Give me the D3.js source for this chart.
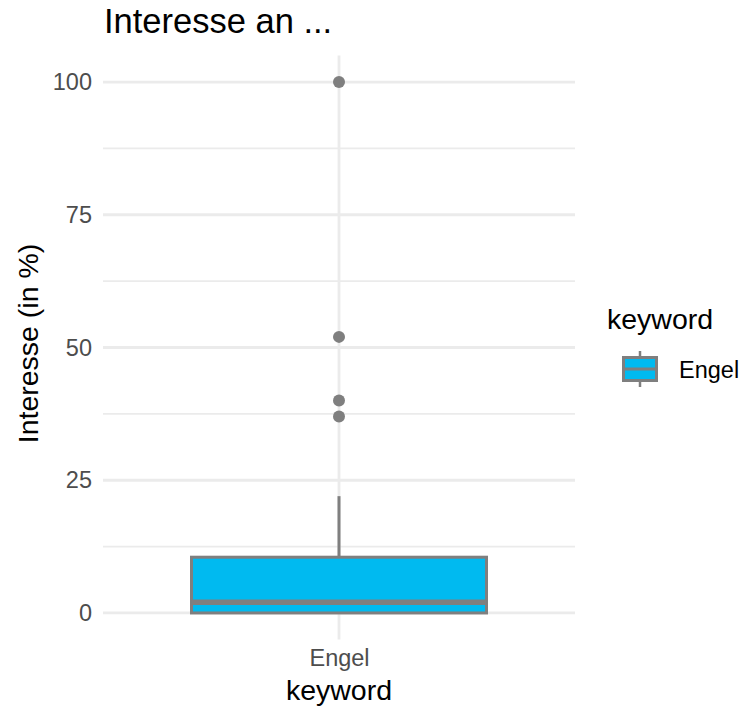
<!DOCTYPE html>
<html>
<head>
<meta charset="utf-8">
<script src="https://cdn.jsdelivr.net/npm/d3@7"></script>
<style>
  body { margin: 0; background: #fff; }
  svg { display: block; font-family: "Liberation Sans", Arial, Helvetica, sans-serif; }
</style>
</head>
<body>
<svg id="chart" width="742" height="711"></svg>
<script>
// ---- data ----
const categories = ["Engel"];
const lowerWhisker = [0];
const q1 = [0];
const median = [2];
const q3 = [10.5];
const upperWhisker = [22];
const outliers = [[37, 40, 52, 100]];
const yTicks = [0, 25, 50, 75, 100];
const yMinorTicks = [12.5, 37.5, 62.5, 87.5];
const titleText = "Interesse an ...";
const yTitle = "Interesse (in %)";
const xTitle = "keyword";
const legendTitle = "keyword";

const boxFill = "#00BAF0";
const boxStroke = "#7F7F7F";
const gridColor = "#EBEBEB";

const svg = d3.select("#chart");
const panel = { left: 103, right: 575, top: 55.5, bottom: 639.5 };

const y = d3.scaleLinear().domain([-5, 105]).range([panel.bottom, panel.top]);
// ggplot discrete expansion 0.6 units on each side
const x = d3.scalePoint().domain(categories).range([panel.left, panel.right]).padding(0.6);
const unit = x.step();
const cx = c => x(c);
const boxW = unit * 0.75;

// grid
const g = svg.append("g");
g.selectAll("line.minor").data(yMinorTicks).join("line")
  .attr("x1", panel.left).attr("x2", panel.right)
  .attr("y1", d => y(d)).attr("y2", d => y(d))
  .attr("stroke", gridColor).attr("stroke-width", 1.9);
g.selectAll("line.major").data(yTicks).join("line")
  .attr("x1", panel.left).attr("x2", panel.right)
  .attr("y1", d => y(d)).attr("y2", d => y(d))
  .attr("stroke", gridColor).attr("stroke-width", 2.8);
g.selectAll("line.vmajor").data(categories).join("line")
  .attr("x1", d => cx(d)).attr("x2", d => cx(d))
  .attr("y1", panel.top).attr("y2", panel.bottom)
  .attr("stroke", gridColor).attr("stroke-width", 2.8);

// y axis labels
const yAxis = d3.axisLeft(y).tickValues(yTicks).tickSize(0).tickPadding(11);
const ya = svg.append("g").attr("transform", `translate(${panel.left},0)`).call(yAxis);
ya.select(".domain").remove();
ya.selectAll("text").attr("fill", "#4D4D4D").attr("font-size", "23.5px").attr("font-family", "Liberation Sans, Arial, sans-serif");

// x axis labels
const xAxis = d3.axisBottom(x).tickSize(0).tickPadding(10);
const xa = svg.append("g").attr("transform", `translate(0,${panel.bottom})`).call(xAxis);
xa.select(".domain").remove();
xa.selectAll("text").attr("fill", "#4D4D4D").attr("font-size", "23.5px").attr("font-family", "Liberation Sans, Arial, sans-serif");

// boxes
categories.forEach((c, i) => {
  const xc = cx(c);
  const bg = svg.append("g");
  bg.append("line").attr("x1", xc).attr("x2", xc).attr("y1", y(q3[i])).attr("y2", y(upperWhisker[i]))
    .attr("stroke", boxStroke).attr("stroke-width", 3);
  bg.append("line").attr("x1", xc).attr("x2", xc).attr("y1", y(q1[i])).attr("y2", y(lowerWhisker[i]))
    .attr("stroke", boxStroke).attr("stroke-width", 3);
  bg.append("rect").attr("x", xc - boxW / 2).attr("width", boxW)
    .attr("y", y(q3[i])).attr("height", y(q1[i]) - y(q3[i]))
    .attr("fill", boxFill).attr("stroke", boxStroke).attr("stroke-width", 3);
  bg.append("line").attr("x1", xc - boxW / 2).attr("x2", xc + boxW / 2)
    .attr("y1", y(median[i])).attr("y2", y(median[i]))
    .attr("stroke", boxStroke).attr("stroke-width", 5.5);
  bg.selectAll("circle").data(outliers[i]).join("circle")
    .attr("cx", xc).attr("cy", d => y(d)).attr("r", 6)
    .attr("fill", boxStroke);
});

// titles
svg.append("text").attr("x", panel.left + 1).attr("y", 33).attr("font-size", "34.5px").attr("fill", "#000").text(titleText);
svg.append("text").attr("x", cx(categories[0])).attr("y", 700).attr("text-anchor", "middle")
  .attr("font-size", "28.5px").attr("fill", "#000").text(xTitle);
svg.append("text").attr("transform", `translate(38,${(panel.top + panel.bottom) / 2 - 4}) rotate(-90)`)
  .attr("text-anchor", "middle").attr("font-size", "28.5px").attr("fill", "#000").text(yTitle);

// legend
const lg = svg.append("g");
lg.append("text").attr("x", 607).attr("y", 329).attr("font-size", "28.5px").attr("fill", "#000").text(legendTitle);
const kx = 622, ky = 351, kw = 36, kh = 36;
categories.forEach((c, i) => {
  const kyy = ky + i * kh;
  lg.append("line").attr("x1", kx + kw / 2).attr("x2", kx + kw / 2).attr("y1", kyy).attr("y2", kyy + kh)
    .attr("stroke", boxStroke).attr("stroke-width", 2.5);
  lg.append("rect").attr("x", kx + 1.5).attr("y", kyy + 6.5).attr("width", kw - 3).attr("height", kh - 13)
    .attr("fill", boxFill).attr("stroke", boxStroke).attr("stroke-width", 3);
  lg.append("line").attr("x1", kx + 1.5).attr("x2", kx + kw - 1.5).attr("y1", kyy + kh / 2).attr("y2", kyy + kh / 2)
    .attr("stroke", boxStroke).attr("stroke-width", 3);
  lg.append("text").attr("x", 679).attr("y", kyy + kh / 2 + 9).attr("font-size", "23.5px").attr("fill", "#000").text(c);
});
</script>
</body>
</html>
